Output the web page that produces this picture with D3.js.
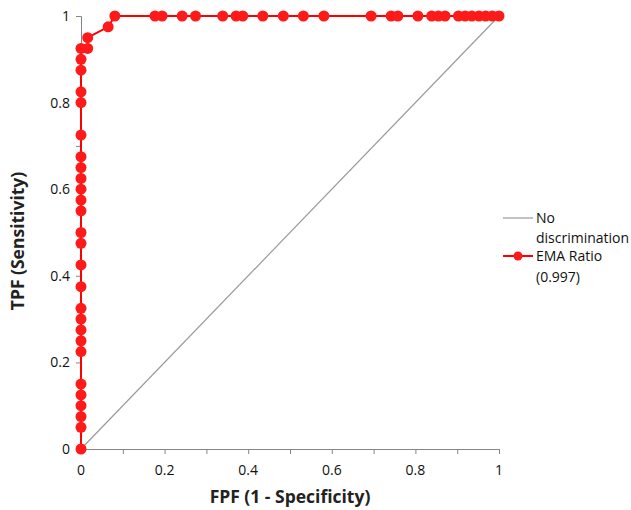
<!DOCTYPE html>
<html>
<head>
<meta charset="utf-8">
<script src="https://cdn.jsdelivr.net/npm/d3@7"></script>
<style>
  body { margin: 0; background: #fff; }
  text { font-family: "Open Sans", "Liberation Sans", sans-serif; }
</style>
</head>
<body>
<div id="chart"></div>
<script>
// ROC points, EMA Ratio
const fpf = [
  0, 0, 0, 0, 0, 0, 0, 0, 0, 0, 0, 0, 0, 0, 0, 0, 0, 0, 0, 0, 0, 0, 0, 0, 0, 0, 0,
  0.016, 0.016, 0.065,
  0.081, 0.177, 0.194, 0.242, 0.274, 0.339, 0.371, 0.387, 0.435, 0.484, 0.532, 0.581,
  0.694, 0.742, 0.758, 0.806, 0.839, 0.855, 0.871, 0.903, 0.919, 0.935, 0.952, 0.968, 0.984, 1
];
const tpf = [
  0, 0.05, 0.075, 0.1, 0.125, 0.15, 0.225, 0.25, 0.275, 0.3, 0.325, 0.375, 0.425, 0.475,
  0.5, 0.55, 0.575, 0.6, 0.625, 0.65, 0.675, 0.725, 0.8, 0.825, 0.875, 0.9, 0.925,
  0.925, 0.95, 0.975,
  1, 1, 1, 1, 1, 1, 1, 1, 1, 1, 1, 1,
  1, 1, 1, 1, 1, 1, 1, 1, 1, 1, 1, 1, 1, 1
];
const diagonal = [[0, 0], [1, 1]];
const xTicks = [0, 0.2, 0.4, 0.6, 0.8, 1];
const yTicks = [0, 0.2, 0.4, 0.6, 0.8, 1];
const minorTicks = d3.range(0, 11).map(i => i / 10);

const width = 631, height = 510;
const margin = { left: 81, right: 132, top: 16, bottom: 61 };

const svg = d3.select('#chart')
  .append('svg')
  .attr('width', width)
  .attr('height', height);

const x = d3.scaleLinear().domain([0, 1]).range([margin.left, width - margin.right]);
const y = d3.scaleLinear().domain([0, 1]).range([height - margin.bottom, margin.top]);

// axes
const xAxis = svg.append('g')
  .attr('transform', `translate(0, ${y(0)})`)
  .call(d3.axisBottom(x).tickValues(minorTicks).tickSize(5).tickFormat(''));
xAxis.select('.domain').attr('stroke', '#868686');
xAxis.selectAll('.tick line').attr('stroke', '#868686');

const yAxis = svg.append('g')
  .attr('transform', `translate(${x(0)}, 0)`)
  .call(d3.axisLeft(y).tickValues(minorTicks).tickSize(5).tickFormat(''));
yAxis.select('.domain').attr('stroke', '#868686');
yAxis.selectAll('.tick line').attr('stroke', '#868686');

svg.append('g').selectAll('text')
  .data(xTicks)
  .enter().append('text')
  .attr('x', d => x(d))
  .attr('y', y(0) + 26)
  .attr('text-anchor', 'middle')
  .attr('font-size', 14)
  .attr('fill', '#111')
  .text(d => d3.format('~g')(d));

svg.append('g').selectAll('text')
  .data(yTicks)
  .enter().append('text')
  .attr('x', x(0) - 11)
  .attr('y', d => y(d) + 5)
  .attr('text-anchor', 'end')
  .attr('font-size', 14)
  .attr('fill', '#111')
  .text(d => d3.format('~g')(d));

// axis titles
svg.append('text')
  .attr('x', (x(0) + x(1)) / 2)
  .attr('y', 503)
  .attr('text-anchor', 'middle')
  .attr('font-size', 17.5)
  .attr('font-weight', 'bold')
  .attr('fill', '#222')
  .text('FPF (1 - Specificity)');

svg.append('text')
  .attr('transform', `translate(24, 241) rotate(-90)`)
  .attr('text-anchor', 'middle')
  .attr('font-size', 17.5)
  .attr('font-weight', 'bold')
  .attr('fill', '#222')
  .text('TPF (Sensitivity)');

// no discrimination line
const line = d3.line().x(d => x(d[0])).y(d => y(d[1]));
svg.append('path')
  .datum(diagonal)
  .attr('d', line)
  .attr('fill', 'none')
  .attr('stroke', '#9a9a9a')
  .attr('stroke-width', 1.2);

// ROC curve
const roc = fpf.map((f, i) => [f, tpf[i]]);
svg.append('path')
  .datum(roc)
  .attr('d', line)
  .attr('fill', 'none')
  .attr('stroke', '#ff0000')
  .attr('stroke-width', 2);

svg.append('g').selectAll('circle')
  .data(roc)
  .enter().append('circle')
  .attr('cx', d => x(d[0]))
  .attr('cy', d => y(d[1]))
  .attr('r', 5.5)
  .attr('fill', '#ff1a1a');

// legend
const legend = svg.append('g').attr('transform', 'translate(503, 218)');
legend.append('line')
  .attr('x1', 0).attr('x2', 30).attr('y1', 0).attr('y2', 0)
  .attr('stroke', '#9a9a9a').attr('stroke-width', 1.2);
legend.append('text').attr('x', 33).attr('y', 5).attr('font-size', 14).attr('fill', '#111').text('No');
legend.append('text').attr('x', 33).attr('y', 25).attr('font-size', 14).attr('fill', '#111').text('discrimination');
legend.append('line')
  .attr('x1', 0).attr('x2', 30).attr('y1', 38).attr('y2', 38)
  .attr('stroke', '#ff0000').attr('stroke-width', 2);
legend.append('circle').attr('cx', 15).attr('cy', 38).attr('r', 4.5).attr('fill', '#ff1a1a');
legend.append('text').attr('x', 33).attr('y', 43).attr('font-size', 14).attr('fill', '#111').text('EMA Ratio');
legend.append('text').attr('x', 33).attr('y', 64).attr('font-size', 14).attr('fill', '#111').text('(0.997)');
</script>
</body>
</html>
